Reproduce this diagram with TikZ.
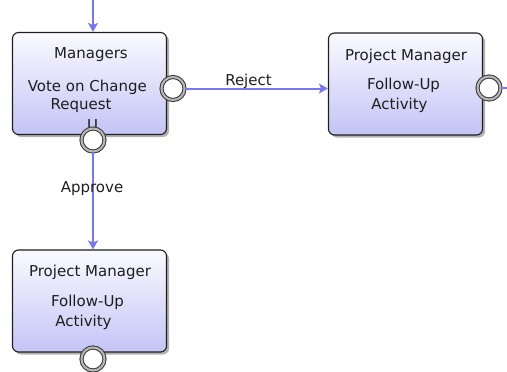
\documentclass[tikz,border=0pt]{standalone}
\usepackage{fontspec}
\setmainfont{DejaVu Sans}
\usetikzlibrary{arrows.meta,shadows}
\definecolor{flow}{HTML}{7878F4}
\definecolor{boxbot}{HTML}{C4C4F6}
\definecolor{boxtop}{HTML}{FAFAFF}
\definecolor{ink}{HTML}{1E1E1E}
\begin{document}
\begin{tikzpicture}[x=1pt,y=-1pt,
  activity/.style={draw=ink, line width=1.1pt, rounded corners=6pt,
    minimum width=154pt, minimum height=102pt, inner sep=0pt,
    top color=boxtop, bottom color=boxbot,
    drop shadow={shadow xshift=2.5pt, shadow yshift=-2.5pt, fill=black, opacity=0.3}},
  txt/.style={anchor=base, inner sep=0pt, text=ink, font=\fontsize{15}{18}\selectfont},
  port/.style={circle, minimum size=23pt, inner sep=0pt, fill=white,
    draw=black!75, line width=1.1pt, double=black!28, double distance=2pt},
  flowline/.style={draw=flow, line width=2pt},
  flowarrow/.style={flowline, -{Stealth[length=9pt, width=10pt, inset=2pt]}}
]
\useasboundingbox (0,0) rectangle (507,372);

% boxes
\node[activity] (box1) at (89.5,83.5) {};
\node[activity] (box2) at (405.5,84) {};
\node[activity] (box3) at (89.5,301) {};

% box texts
\node[txt] (t1a) at (91,59) {Managers};
\node[txt] (t1b) at (87.3,91) {Vote on Change};
\node[txt] (t1c) at (81,109) {Request};
\node[txt] (t1d) at (92.5,130) {U};

\node[txt] (t2a) at (406,60) {Project Manager};
\node[txt] (t2b) at (403.5,89) {Follow-Up};
\node[txt] (t2c) at (399.5,109) {Activity};

\node[txt] (t3a) at (90,276) {Project Manager};
\node[txt] (t3b) at (87.5,306) {Follow-Up};
\node[txt] (t3c) at (83.5,326) {Activity};

% ports
\coordinate (topin) at (93,0);
\coordinate (outr) at (507,88);
\node[port] (c1r) at (173,88.5) {};
\node[port] (c1b) at (93,140) {};
\node[port] (c2r) at (489,88) {};
\node[port] (c3b) at (93,359) {};

% connectors
\draw[flowarrow] (topin) -- (topin |- box1.north);
\draw[flowarrow] (c1r.east) -- (c1r -| box2.west);
\draw[flowarrow] (c1b.south) -- (c1b |- box3.north);
\draw[flowline] (c2r.east) -- (outr);

% labels
\node[txt] (lrej) at (248.5,85) {Reject};
\node[txt] (lapp) at (92,192) {Approve};
\end{tikzpicture}
\end{document}
